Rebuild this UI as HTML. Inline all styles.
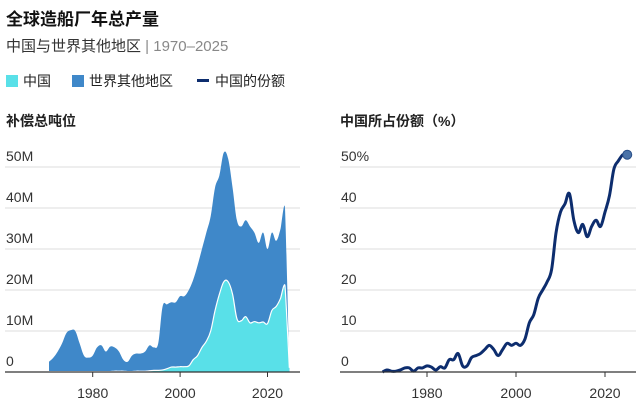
<!DOCTYPE html>
<html><head><meta charset="utf-8">
<style>
body{margin:0;background:#fff;font-family:"Liberation Sans","Noto Sans CJK SC",sans-serif;color:#222;}
#wrap{position:relative;width:640px;height:409px;overflow:hidden;}
.t{position:absolute;white-space:nowrap;}
</style></head><body>
<div id="wrap">
<div class="t" style="left:6px;top:5px;font-size:17px;font-weight:bold;color:#111">全球造船厂年总产量</div>
<div class="t" style="left:6px;top:35px;font-size:15px;color:#333">中国与世界其他地区 <span style="color:#888">| 1970–2025</span></div>
<div class="t" style="left:6px;top:71px;font-size:14px"><span style="display:inline-block;width:12px;height:12px;background:#59e0e8;vertical-align:-1px;margin-right:5px"></span>中国</div>
<div class="t" style="left:72px;top:71px;font-size:14px"><span style="display:inline-block;width:12px;height:12px;background:#3f88c9;vertical-align:-1px;margin-right:5px"></span>世界其他地区</div>
<div class="t" style="left:197px;top:71px;font-size:14px"><span style="display:inline-block;width:12px;height:3px;background:#0d2d6e;vertical-align:4px;margin-right:6px"></span>中国的份额</div>
<div class="t" style="left:6px;top:111px;font-size:14px;font-weight:bold">补偿总吨位</div>
<div class="t" style="left:340px;top:111px;font-size:14px;font-weight:bold">中国所占份额（%）</div>
<svg id="svg" width="640" height="409" style="position:absolute;left:0;top:0"></svg>
</div>
<script>
const years=[];for(let y=1970;y<=2025;y++)years.push(y);
const totalM=[2.5,3.5,5,7,9.5,10.2,10,7,4,3.5,4,6,6.5,5,6.2,6,5,3,2.5,4,4.5,4.5,5,6.5,6,7,16,16.5,17,17,18.5,18.5,20,22.5,26,30,34,38,45,48,53.5,52,45,37,35.5,37,35.5,34,31.5,34,30,34,32,35,40,1];
const chinaM=[0.1,0.1,0.1,0.1,0.1,0.1,0.1,0.1,0.1,0.1,0.1,0.1,0.1,0.1,0.1,0.2,0.2,0.2,0.1,0.1,0.2,0.2,0.2,0.3,0.4,0.4,0.5,0.8,1.2,1.2,1.3,1.3,1.5,3,4,6,7.5,10,15,19,22,22,19,13,12.5,13.5,12,12.3,12,12.2,11.8,15,16,18,21,1];
const sharePct=[0,0.5,0.2,0.2,0.5,1,1,0.2,1,1,1.5,1.2,0.5,1.3,1,3,3,4.5,1.5,1.5,3.5,4,4.5,5.5,6.5,5.5,4,5.5,7,6.5,7,6.5,8,12,14,18,20,22,25,34,39,41,43.5,37,34,36,33,35.5,37,35.5,39,43,49.5,51.5,53,53];
const leftTicks=[0,10,20,30,40,50];
const leftTickLabels=["0","10M","20M","30M","40M","50M"];
const rightTicks=[0,10,20,30,40,50];
const rightTickLabels=["0","10","20","30","40","50%"];
const xTicks=[1980,2000,2020];

const svg=document.getElementById('svg');const NS='http://www.w3.org/2000/svg';
function mk(tag,attrs,parent){const e=document.createElementNS(NS,tag);for(const k in attrs)e.setAttribute(k,attrs[k]);(parent||svg).appendChild(e);return e;}
const lx=y=>49+(y-1970)*4.37, ly=v=>372-v*4.1;
const rx=y=>427+(y-1980)*4.45, ry=v=>372-v*4.1;
function smooth(pts){let d='M'+pts[0][0]+','+pts[0][1];for(let i=0;i<pts.length-1;i++){const p0=pts[Math.max(0,i-1)],p1=pts[i],p2=pts[i+1],p3=pts[Math.min(pts.length-1,i+2)];const t=(i>=pts.length-3)?0.08:0.18;d+=' C'+(p1[0]+(p2[0]-p0[0])*t)+','+(p1[1]+(p2[1]-p0[1])*t)+' '+(p2[0]-(p3[0]-p1[0])*t)+','+(p2[1]-(p3[1]-p1[1])*t)+' '+p2[0]+','+p2[1];}return d;}
leftTicks.forEach((v,i)=>{
 if(v>0){const g=mk('line',{x1:5,x2:300,y1:ly(v),y2:ly(v),stroke:'#ddd','stroke-width':1});}
 const t=mk('text',{x:6,y:ly(v)-6,'font-size':14,fill:'#333'});t.textContent=leftTickLabels[i];
 
});
rightTicks.forEach((v,i)=>{
 if(v>0){const g=mk('line',{x1:340,x2:636,y1:ry(v),y2:ry(v),stroke:'#ddd','stroke-width':1});}
 const t=mk('text',{x:341,y:ry(v)-6,'font-size':14,fill:'#333'});t.textContent=rightTickLabels[i];
 
});
const tp=years.map((y,i)=>[lx(y),ly(totalM[i])]);
const cp=years.map((y,i)=>[lx(y),ly(chinaM[i])]);
const base=' L'+lx(2025)+','+ly(0)+' L'+lx(1970)+','+ly(0)+' Z';
const a1=mk('path',{d:smooth(tp)+base,fill:'#3f88c9'});

const a2=mk('path',{d:smooth(cp)+base,fill:'#59e0e8'});

const a3=mk('path',{d:smooth(cp),fill:'none',stroke:'#fff','stroke-width':1.2});

const sp=years.map((y,i)=>[rx(y),ry(sharePct[i])]);
const ln=mk('path',{d:smooth(sp),fill:'none',stroke:'#0d2d6e','stroke-width':3,'stroke-linejoin':'round'});

const last=sp[sp.length-1];
const dot=mk('circle',{cx:last[0],cy:last[1],r:4.5,fill:'#4a72a8',stroke:'#2a4f88','stroke-width':1});

const axl=mk('line',{x1:5,x2:300,y1:372,y2:372,stroke:'#333','stroke-width':1.2});

const axr=mk('line',{x1:340,x2:636,y1:372,y2:372,stroke:'#333','stroke-width':1.2});

xTicks.forEach(y=>{
 const t=mk('text',{x:lx(y),y:398,'font-size':14,fill:'#333','text-anchor':'middle'});t.textContent=y;
 
 const k=mk('line',{x1:lx(y),x2:lx(y),y1:372,y2:377,stroke:'#333'});
 
 const t2=mk('text',{x:rx(y),y:398,'font-size':14,fill:'#333','text-anchor':'middle'});t2.textContent=y;
 
 const k2=mk('line',{x1:rx(y),x2:rx(y),y1:372,y2:377,stroke:'#333'});
 
});
</script>
</body></html>
